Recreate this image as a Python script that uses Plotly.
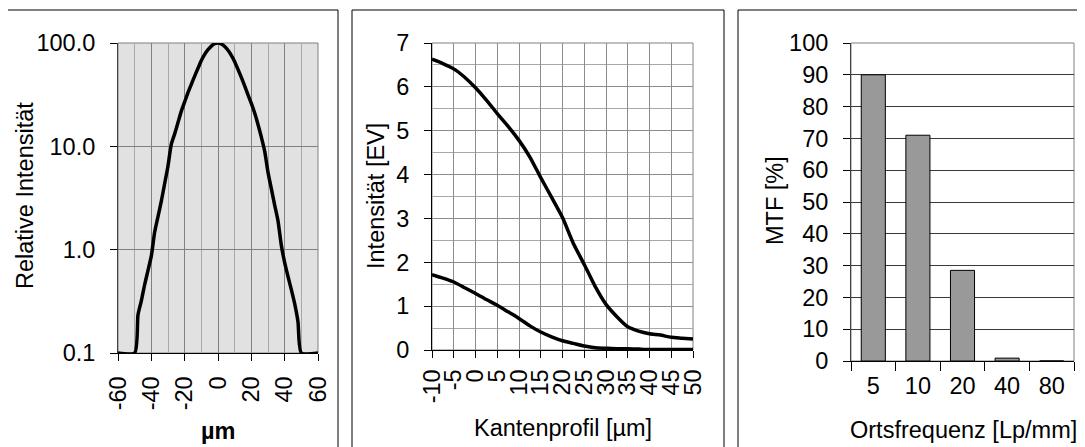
import plotly.graph_objects as go

# point spread profile (log scale)
psf_x = [-60, -50, -48, -46, -44, -42, -40, -38, -36, -34, -32, -30, -28, -26, -24, -22, -20, -18,
         -16, -14, -12, -10, -8, -6, -4, -2, 0, 2, 4, 6, 8, 10, 12, 14, 16, 18, 20, 22, 24, 26, 28,
         30, 32, 34, 36, 38, 40, 42, 44, 46, 48, 50, 60]
psf_y = [0.1, 0.1, 0.234, 0.32, 0.46, 0.63, 0.87, 1.48, 2.09, 2.95, 4.37, 6.46, 10.5, 13.2, 17.0,
         21.9, 26.9, 33.1, 39.8, 47.9, 56.9, 67.6, 77.6, 86.1, 93.3, 98.4, 100.0, 98.0, 92.5, 85.0,
         76.0, 66.0, 55.5, 46.5, 38.5, 31.5, 26.0, 21.0, 16.3, 12.3, 9.0, 5.6, 3.9, 2.7, 1.9, 1.1,
         0.75, 0.55, 0.41, 0.3, 0.2, 0.1, 0.1]
psf_ticks = [-60, -40, -20, 0, 20, 40, 60]

# edge profile, two exposures
edge_x = [-10, -7.5, -5, -2.5, 0, 2.5, 5, 7.5, 10, 12.5, 15, 17.5, 20, 22.5, 25, 27.5, 30, 32.5,
          35, 37.5, 40, 42.5, 45, 47.5, 50]
edge_hi = [6.63, 6.53, 6.41, 6.22, 5.98, 5.70, 5.39, 5.10, 4.78, 4.40, 3.93, 3.48, 3.02, 2.43,
           1.95, 1.45, 1.04, 0.76, 0.53, 0.43, 0.37, 0.34, 0.29, 0.27, 0.25]
edge_lo = [1.72, 1.64, 1.55, 1.42, 1.29, 1.15, 1.02, 0.87, 0.72, 0.55, 0.41, 0.30, 0.21, 0.15,
           0.09, 0.05, 0.04, 0.03, 0.03, 0.02, 0.01, 0.01, 0.01, 0.01, 0.01]
edge_ticks = [-10, -5, 0, 5, 10, 15, 20, 25, 30, 35, 40, 45, 50]

# MTF
mtf_freq = ["5", "10", "20", "40", "80"]
mtf_val = [90, 71, 28.5, 0.9, 0]

# the page puts the plot 8px in from the top-left corner of the window
OFF = 8
W, H = 1085 - OFF, 447 - OFF
FAM = "Liberation Sans, Arial, sans-serif"
FONT = dict(family=FAM, size=23.5, color="black")
GRID = "#8c8c8c"


def dx(a, b):
    return [(a - OFF) / W, (b - OFF) / W]


def dy(top, bottom):
    return [1 - (bottom - OFF) / H, 1 - (top - OFF) / H]


LINE = dict(color="black", width=3.5, shape="spline", smoothing=0.6)
fig = go.Figure()
fig.add_trace(go.Scatter(x=psf_x, y=psf_y, mode="lines", line=LINE, xaxis="x", yaxis="y"))
fig.add_trace(go.Scatter(x=edge_x, y=edge_hi, mode="lines", line=LINE, xaxis="x2", yaxis="y2"))
fig.add_trace(go.Scatter(x=edge_x, y=edge_lo, mode="lines", line=LINE, xaxis="x2", yaxis="y2"))
fig.add_trace(go.Bar(x=mtf_freq, y=mtf_val, marker=dict(color="#999999", line=dict(color="black", width=1)),
                     xaxis="x3", yaxis="y3"))

ax_common = dict(ticks="outside", tickcolor="black", ticklen=7, showline=True, zeroline=False,
                 tickfont=FONT, automargin=False)

fig.update_layout(
    width=W, height=H, margin=dict(l=0, r=0, t=0, b=0, autoexpand=False),
    paper_bgcolor="white", plot_bgcolor="white", showlegend=False, bargap=0.46,
    font=FONT,
    xaxis=dict(domain=dx(118, 318), range=[-60, 60], tickvals=psf_ticks,
               ticktext=[str(v) for v in psf_ticks], tickangle=-90, ticklabelstandoff=6,
               showgrid=True, gridcolor="#808080", linecolor="black",
               minor=dict(dtick=10, tick0=-60, showgrid=True, gridcolor="#a8a8a8"), anchor="y", **ax_common),
    yaxis=dict(domain=dy(43, 353), type="log", range=[-1, 2], tickvals=[0.1, 1, 10, 100],
               ticktext=["0.1", "1.0", "10.0", "100.0"], showgrid=True, gridcolor="#808080",
               linecolor="#404040", anchor="x", ticklabelstandoff=10, **ax_common),
    xaxis2=dict(domain=dx(432, 693), range=[-10, 50], tickvals=edge_ticks,
                ticktext=[str(v) for v in edge_ticks], tickangle=-90, ticklabelstandoff=2,
                showgrid=True, gridcolor=GRID, linecolor="black", anchor="y2", **ax_common),
    yaxis2=dict(domain=dy(43, 350), range=[0, 7], dtick=1, showgrid=True, gridcolor=GRID,
                minor=dict(dtick=0.5, showgrid=True, gridcolor="#a8a8a8"),
                linecolor="black", anchor="x2", ticklabelstandoff=10, **ax_common),
    xaxis3=dict(domain=dx(851, 1074), range=[-0.5, 4.5], type="category", tickson="boundaries",
                showgrid=False, linecolor="black", anchor="y3", ticklabelstandoff=4,
                **dict(ax_common, ticklen=9)),
    yaxis3=dict(domain=dy(43, 361), range=[0, 100], dtick=10, showgrid=True, gridcolor="#3a3a3a",
                linecolor="#404040", anchor="x3", ticklabelstandoff=10, **ax_common),
)

# grey plot background of the first panel
fig.add_shape(type="rect", xref="x domain", yref="y domain", x0=0, x1=1, y0=0, y1=1,
              fillcolor="#e1e1e1", line_width=0, layer="below")
# grey frame (top/right) round each plot area
for xr, yr in [("x", "y"), ("x2", "y2"), ("x3", "y3")]:
    fig.add_shape(type="rect", xref=f"{xr} domain", yref=f"{yr} domain", x0=0, x1=1, y0=0, y1=1,
                  line=dict(color="#808080", width=1), layer="below")

# outer boxes of the three panels
for a, b in [(7, 338), (352, 724), (738, 1095)]:
    fig.add_shape(type="rect", xref="paper", yref="paper", x0=(a - OFF) / W, x1=(b - OFF) / W,
                  y0=-0.1, y1=1 - (10 - OFF) / H, line=dict(color="black", width=1))


def label(text, x, y, angle=0, bold=False):
    fig.add_annotation(text=f"<b>{text}</b>" if bold else text, x=(x - OFF) / W, y=1 - (y - OFF) / H,
                       xref="paper", yref="paper", showarrow=False, textangle=angle,
                       xanchor="center", yanchor="middle", font=FONT)


label("Relative Intensität", 25, 196, -90)
label("µm", 218, 431, bold=True)
label("Intensität [EV]", 376, 196, -90)
label("Kantenprofil [µm]", 563, 428)
label("MTF [%]", 775, 201, -90)
label("Ortsfrequenz [Lp/mm]", 963, 430)

fig.write_html("out.html")
